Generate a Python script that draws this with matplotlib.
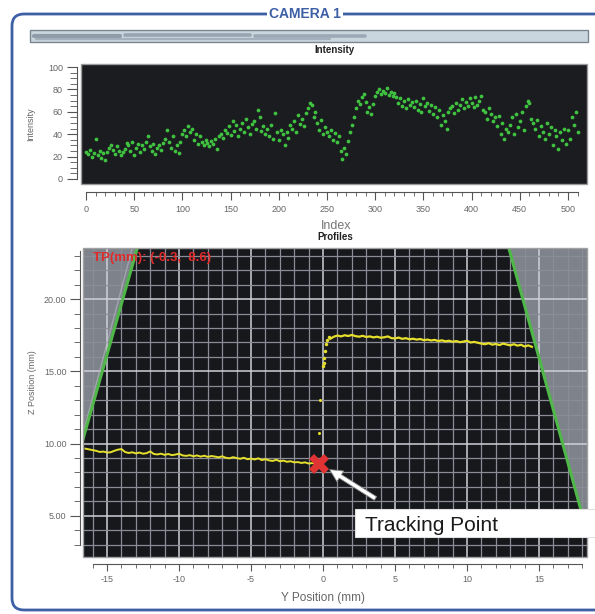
import numpy as np
import matplotlib
matplotlib.use("Agg")
import matplotlib.pyplot as plt
from matplotlib.patches import Rectangle, FancyBboxPatch, Polygon
from matplotlib.ticker import MultipleLocator, FormatStrFormatter
import matplotlib.transforms as mtransforms

plt.rcParams['font.family'] = ['Liberation Sans', 'DejaVu Sans']
plt.rcParams['axes.unicode_minus'] = False

# intensity samples, every 2nd index from 0
intensity_step = 2
intensity = [
    24, 22, 26, 20, 23, 36, 21, 25, 19, 23,
    17, 24, 28, 30, 26, 22, 29, 25, 21, 24,
    27, 32, 30, 25, 33, 21, 28, 31, 24, 30,
    27, 33, 38, 29, 25, 31, 22, 28, 30, 26,
    32, 36, 44, 33, 28, 38, 25, 30, 23, 33,
    40, 44, 38, 47, 42, 45, 35, 40, 31, 38,
    33, 30, 35, 32, 29, 34, 31, 36, 27, 38,
    40, 37, 44, 41, 47, 39, 52, 43, 48, 38,
    45, 50, 42, 54, 46, 40, 49, 52, 45, 62,
    55, 43, 47, 40, 45, 38, 48, 36, 59, 42,
    35, 44, 40, 30, 42, 37, 48, 45, 52, 42,
    57, 49, 54, 47, 59, 63, 68, 66, 55, 60,
    50, 44, 53, 40, 46, 42, 38, 44, 35, 41,
    33, 38, 25, 18, 28, 22, 34, 42, 48, 55,
    63, 70, 67, 73, 76, 69, 60, 64, 58, 67,
    74, 78, 80, 76, 79, 77, 81, 75, 78, 74,
    77, 73, 68, 72, 65, 70, 63, 71, 66, 69,
    64, 70, 62, 67, 60, 72, 65, 68, 61, 66,
    58, 64, 55, 62, 48, 57, 52, 45, 60, 63,
    65, 59, 68, 62, 66, 71, 63, 69, 65, 72,
    68, 64, 73, 66, 70, 74, 62, 60, 54, 63,
    58, 52, 55, 47, 56, 40, 50, 36, 45, 42,
    48, 55, 40, 58, 46, 52, 60, 44, 65, 70,
    68, 54, 50, 45, 53, 38, 47, 42, 36, 50,
    40, 46, 30, 44, 38, 27, 42, 35, 45, 31,
    44, 36, 55, 48, 60, 42,
]

# profile, left part (y from -16.5, step 0.25)
left_y0, prof_step = -16.5, 0.25
left_z = [
    9.65, 9.60, 9.55, 9.50, 9.42, 9.45, 9.38, 9.40, 9.50, 9.58,
    9.62, 9.42, 9.35, 9.40, 9.32, 9.38, 9.30, 9.34, 9.46, 9.28,
    9.25, 9.30, 9.22, 9.28, 9.20, 9.24, 9.30, 9.18, 9.15, 9.20,
    9.12, 9.18, 9.10, 9.16, 9.08, 9.14, 9.10, 9.05, 9.12, 9.02,
    8.98, 9.06, 9.00, 8.95, 9.02, 8.92, 8.96, 8.90, 8.98, 8.86,
    8.92, 8.84, 8.80, 8.88, 8.78, 8.82, 8.74, 8.78, 8.70, 8.72,
    8.66, 8.70, 8.62, 8.65, 8.60,
]
# jump near y = 0
jump_y = [0.0, 0.05, 0.1, 0.15, 0.2, 0.3, 0.4]
jump_z = [15.35, 15.6, 15.95, 16.4, 16.9, 17.2, 17.35]
stray_y = [-0.2, -0.25]
stray_z = [13.05, 10.75]
# right part (y from 0.5, step 0.25)
right_y0 = 0.5
right_z = [
    17.25, 17.40, 17.48, 17.42, 17.50, 17.45, 17.52, 17.44, 17.40, 17.46,
    17.38, 17.42, 17.35, 17.40, 17.33, 17.36, 17.42, 17.30, 17.28, 17.34,
    17.25, 17.30, 17.22, 17.26, 17.20, 17.24, 17.16, 17.20, 17.14, 17.18,
    17.10, 17.15, 17.08, 17.12, 17.05, 17.10, 17.02, 17.06, 17.12, 17.00,
    17.04, 16.98, 16.92, 16.88, 16.95, 16.85, 16.90, 16.82, 16.92, 16.86,
    16.80, 16.88, 16.78, 16.84, 16.72, 16.80, 16.70,
]
# field of view edges
left_edge_y = [-16.67, -12.9]
left_edge_z = [10.3, 23.54]
right_edge_y = [12.9, 18.6]
right_edge_z = [23.54, 2.9]
tp = (-0.3, 8.6)

W, H = 595, 614
fig = plt.figure(figsize=(W / 100, H / 100), dpi=100)
px = mtransforms.Affine2D().scale(1 / W, 1 / H) + fig.transFigure

# outer frame
frame = FancyBboxPatch((12, 4), 700, 596, boxstyle="round,pad=0,rounding_size=12",
                       transform=px, fill=False, edgecolor='#3d5fa6', linewidth=2.0)
fig.add_artist(frame)
fig.text(305 / W, 1 - 14 / H, "CAMERA 1", ha='center', va='center', fontsize=10,
         fontweight='bold', color='#3d5fa6',
         bbox=dict(facecolor='white', edgecolor='none', pad=1.5))
# status bar (blurred caption)
fig.add_artist(Rectangle((30, 614 - 42), 558, 12, transform=px, facecolor='#c9d6de',
                         edgecolor='#7b8690', linewidth=1.0))
for x0, x1, yy, c, lw in [(34, 120, 35.5, '#7d8a98', 3.0), (125, 250, 35, '#8795a3', 2.6),
                          (255, 365, 35.5, '#8e9ba8', 2.6), (36, 330, 39, '#98a4b0', 1.6)]:
    fig.add_artist(plt.Line2D([x0, x1], [614 - yy, 614 - yy], transform=px,
                              color=c, linewidth=lw, alpha=0.75, solid_capstyle='round'))

grey = '#666666'

# ---- intensity
ax1 = fig.add_axes([81 / W, 1 - 184 / H, 506 / W, 120 / H])
ax1.set_facecolor('#1b1c20')
idx = np.arange(len(intensity)) * intensity_step
ax1.plot(idx, intensity, 'o', color='#3fc23f', ms=2.7, mew=0)
ax1.set_xlim(-5.2, 519.7)
ax1.set_ylim(-4.5, 102.7)
ax1.add_patch(Rectangle((0, 0), 1, 1, transform=ax1.transAxes, fill=False,
                        edgecolor='#9a9a9a', linewidth=1.0, clip_on=False))
for s in ['top', 'right']:
    ax1.spines[s].set_visible(False)
ax1.spines['left'].set_position(('outward', 3))
ax1.spines['bottom'].set_position(('outward', 6))
ax1.spines['left'].set_bounds(0, 100)
ax1.spines['bottom'].set_bounds(0, 510)
for s in ['left', 'bottom']:
    ax1.spines[s].set_color('#555555')
ax1.xaxis.set_major_locator(MultipleLocator(50))
ax1.xaxis.set_minor_locator(MultipleLocator(10))
ax1.yaxis.set_major_locator(MultipleLocator(20))
ax1.yaxis.set_minor_locator(MultipleLocator(5))
ax1.tick_params(which='both', colors='#555555', labelcolor=grey, labelsize=6.5)
ax1.tick_params(axis='y', which='major', length=7, pad=3)
ax1.tick_params(axis='y', which='minor', length=5)
ax1.tick_params(axis='x', which='major', length=6, pad=3)
ax1.tick_params(axis='x', which='minor', length=3)
ax1.set_title("Intensity", fontsize=7, fontweight='bold', pad=8, color='#222222')
ax1.set_ylabel("Intensity", fontsize=6.5, color=grey)
ax1.yaxis.set_label_coords(-0.09, 0.5)
ax1.set_xlabel("Index", fontsize=9, color='#777777')
ax1.xaxis.set_label_coords(0.504, -0.30)

# ---- profiles
ax2 = fig.add_axes([83 / W, 1 - 557 / H, 504 / W, 309 / H])
ax2.set_facecolor('#17181c')
xl = (-16.67, 18.33)
yl = (2.15, 23.54)
ax2.set_xlim(*xl)
ax2.set_ylim(*yl)
ax2.set_axisbelow(True)
ax2.add_patch(Polygon([(xl[0], left_edge_z[0]), (left_edge_y[1], left_edge_z[1]),
                       (xl[0], yl[1])], closed=True, facecolor='#7d828b',
                      edgecolor='none', zorder=0.2))
ax2.add_patch(Polygon([(right_edge_y[0], right_edge_z[0]), (right_edge_y[1], right_edge_z[1]),
                       (xl[1], yl[0]), (xl[1], yl[1])], closed=True, facecolor='#7d828b',
                      edgecolor='none', zorder=0.2))
ax2.xaxis.set_major_locator(MultipleLocator(5))
ax2.xaxis.set_minor_locator(MultipleLocator(1))
ax2.yaxis.set_major_locator(MultipleLocator(5))
ax2.yaxis.set_minor_locator(MultipleLocator(1))
ax2.yaxis.set_major_formatter(FormatStrFormatter('%.2f'))
ax2.grid(which='major', color='#d0d0d8', linewidth=1.1)
ax2.grid(which='minor', color='#8c8c96', linewidth=0.9)
ax2.plot(left_edge_y, left_edge_z, color='#4fb848', lw=2.2, zorder=2)
ax2.plot([left_edge_y[0] - 0.1, left_edge_y[1] - 0.35], left_edge_z, color='#b8bcc4',
         lw=1.0, alpha=0.6, zorder=1.5)
ax2.plot(right_edge_y, right_edge_z, color='#4fb848', lw=2.2, zorder=2)

yellow = '#e6df2c'
ly = left_y0 + prof_step * np.arange(len(left_z))
ry = right_y0 + prof_step * np.arange(len(right_z))
ax2.plot(ly, left_z, color=yellow, lw=1.4, zorder=3)
ax2.plot(jump_y, jump_z, 'o', color=yellow, ms=2.5, mew=0, zorder=3)
ax2.plot(ry, right_z, color=yellow, lw=1.6, zorder=3)
ax2.plot(stray_y, stray_z, 'o', color=yellow, ms=2.2, mew=0, zorder=3)
ax2.plot(*tp, marker='X', color='#e03434', ms=15, mew=0, zorder=4)

ax2.annotate("", xy=(tp[0] + 0.6, tp[1] - 0.3), xytext=(3.8, 6.1),
             arrowprops=dict(arrowstyle='simple,head_length=0.9,head_width=0.9,tail_width=0.3',
                             facecolor='white', edgecolor='#909090', lw=0.6), zorder=5)

ax2.text(0.02, 0.968, "TP(mm): (-0.3,  8.6)", transform=ax2.transAxes, color='#e02a2a',
         fontsize=9.5, fontweight='bold', va='center', ha='left', zorder=6)

ax2.add_patch(Rectangle((0, 0), 1, 1, transform=ax2.transAxes, fill=False,
                        edgecolor='#a0a0a0', linewidth=1.0, clip_on=False, zorder=6))
for s in ['top', 'right']:
    ax2.spines[s].set_visible(False)
ax2.spines['left'].set_position(('outward', 2))
ax2.spines['bottom'].set_position(('outward', 5))
ax2.spines['left'].set_bounds(3, 23.3)
ax2.spines['bottom'].set_bounds(-16, 18)
for s in ['left', 'bottom']:
    ax2.spines[s].set_color('#555555')
ax2.tick_params(which='both', colors='#555555', labelcolor=grey, labelsize=6.5)
ax2.tick_params(axis='y', which='major', length=7, pad=3)
ax2.tick_params(axis='y', which='minor', length=4)
ax2.tick_params(axis='x', which='major', length=5, pad=3)
ax2.tick_params(axis='x', which='minor', length=3)
ax2.set_title("Profiles", fontsize=7, fontweight='bold', pad=6, color='#222222')
ax2.set_ylabel("Z Position (mm)", fontsize=6.5, color=grey)
ax2.yaxis.set_label_coords(-0.091, 0.566)
ax2.set_xlabel("Y Position (mm)", fontsize=8.5, color='#666666')
ax2.xaxis.set_label_coords(0.476, -0.113)

# tracking point label box
fig.add_artist(Rectangle((355, 614 - 537), 245, 28, transform=px, facecolor='white',
                         edgecolor='#e0e0e0', linewidth=0.8))
fig.text(365 / W, 1 - 525.5 / H, "Tracking Point", fontsize=15, color='#1a1a1a',
         ha='left', va='center')

fig.savefig("out.png", dpi=100)
